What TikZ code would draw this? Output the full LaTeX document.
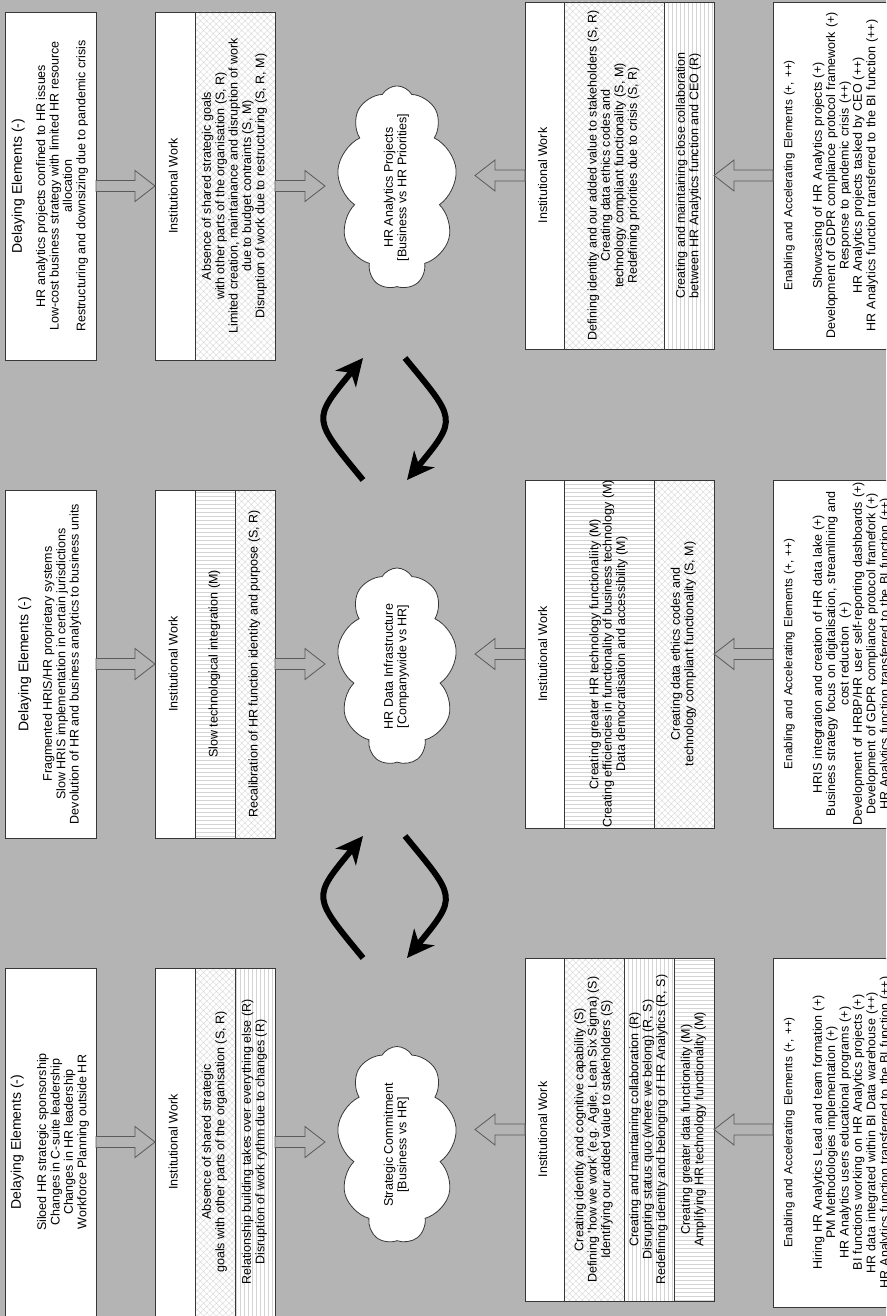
\documentclass[tikz,border=0pt]{standalone}
\usepackage{fontspec}
\setmainfont{Liberation Sans}
\usepackage{graphicx}
\usetikzlibrary{arrows.meta,shapes.symbols,patterns.meta,calc}

\definecolor{bggray}{RGB}{180,180,180}
\definecolor{edgegray}{RGB}{55,55,55}
\definecolor{hatchgray}{RGB}{212,212,212}
\definecolor{arrowgray}{RGB}{90,90,90}

% text turned to read bottom-to-top
\newcommand{\vtext}[1]{\rotatebox{90}{\begin{tabular}{@{}c@{}}#1\end{tabular}}}
\newcommand{\dtitle}{{\fontsize{14bp}{15bp}\selectfont Delaying Elements (-)}}
\newcommand{\etitle}{{\fontsize{11.7bp}{13.4bp}\selectfont Enabling and Accelerating Elements (+, ++)}}
% hollow block arrow from #1 to the tip #2
\newcommand{\blockarrow}[2]{%
  \coordinate (ba-s) at #1;
  \coordinate (ba-t) at #2;
  \coordinate (ba-h) at ($(ba-t)!20bp!(ba-s)$);
  \draw[blockarr] ($(ba-s)!5.5bp!90:(ba-t)$) -- ($(ba-h)!5.5bp!90:(ba-t)$)
    -- ($(ba-h)!15.5bp!90:(ba-t)$) -- (ba-t) -- ($(ba-h)!15.5bp!-90:(ba-t)$)
    -- ($(ba-h)!5.5bp!-90:(ba-t)$) -- ($(ba-s)!5.5bp!-90:(ba-t)$) -- cycle;}

\begin{document}
\begin{tikzpicture}[x=1bp,y=-1bp,
    every node/.style={font=\fontsize{12.5bp}{13.4bp}\selectfont},
    wh/.style 2 args={minimum width=#1bp,minimum height=#2bp},
    bandbase/.style={draw=edgegray,line width=0.9bp,inner sep=0pt,outer sep=0pt,anchor=north west},
    plainbox/.style={bandbase,fill=white},
    crossband/.style={bandbase,preaction={fill=white},pattern={Hatch[angle=45,distance=4.5bp,line width=0.35bp]},pattern color=hatchgray},
    vband/.style={bandbase,preaction={fill=white},pattern={Lines[angle=90,distance=4bp,line width=0.4bp]},pattern color=hatchgray},
    hband/.style={bandbase,preaction={fill=white},pattern={Lines[angle=0,distance=4bp,line width=0.4bp]},pattern color=hatchgray},
    enab/.style={plainbox,inner xsep=10bp,text width=130bp,align=left},
    cloudy/.style={cloud,cloud puffs=9,cloud puff arc=120,cloud ignores aspect,draw=edgegray,line width=0.8bp,fill=white,
      minimum width=120bp,minimum height=197bp,inner sep=0pt},
    blockarr/.style={draw=arrowgray,line width=0.8bp,fill=bggray,line join=miter},
    cycarrow/.style={line width=6bp,-{Stealth[length=27bp,width=26bp,inset=8bp]}}]

\useasboundingbox (0,0) rectangle (886,1316);
\clip (0,0) rectangle (886,1316);
\fill[bggray] (0,0) rectangle (886,1316);

% HR Analytics Projects
\node[plainbox,wh={91}{348}] (d1) at (5,12) {\vtext{\dtitle\\[10bp]
  HR analytics projects confined to HR issues\\
  Low-cost business strategy with limited HR resource\\
  allocation\\
  Restructuring and downsizing due to pandemic crisis}};
\node[plainbox,wh={40}{348}] (t1) at (155,12) {\vtext{Institutional Work}};
\node[crossband,wh={80}{348}] (t1a) at (195,12) {\vtext{Absence of shared strategic goals\\
  with other parts of the organisation (S, R)\\
  Limited creation, maintainance and disruption of work\\
  due to budget contraints (S, M)\\
  Disruption of work due to restructuring (S, R, M)}};
\node[cloudy] (c1) at (397,187.5) {\vtext{HR Analytics Projects\\{}[Business vs HR Priorities]}};
\node[plainbox,wh={39}{347}] (b1) at (525,2) {\vtext{Institutional Work}};
\node[crossband,wh={100}{347}] (b1a) at (564,2) {\vtext{Defining identity and our added value to stakeholders (S, R)\\
  Creating data ethics codes and\\
  technology compliant functionality (S, M)\\
  Redefining priorities due to crisis (S, R)}};
\node[vband,wh={50}{347}] (b1b) at (664,2) {\vtext{Creating and maintaining close collaboration\\
  between HR Analytics function and CEO (R)}};
\node[enab,minimum height=347bp] (e1) at (773,2) {\vtext{\etitle\\[16bp]
  Showcasing of HR Analytics projects (+)\\
  Development of GDPR compliance protocol framework (+)\\
  Response to pandemic crisis (++)\\
  HR Analytics projects tasked by CEO (++)\\
  HR Analytics function transferred to the BI function (++)}};

% HR Data Infrastructure
\node[plainbox,wh={91}{348}] (d2) at (5,490) {\vtext{\dtitle\\[10bp]
  Fragmented HRIS/HR proprietary systems\\
  Slow HRIS implementation in certain jurisdictions\\
  Devolution of HR and business analytics to business units}};
\node[plainbox,wh={40}{348}] (t2) at (155,490) {\vtext{Institutional Work}};
\node[hband,wh={40}{348}] (t2a) at (195,490) {\vtext{Slow technological integration (M)}};
\node[crossband,wh={40}{348}] (t2b) at (235,490) {\vtext{Recalibration of HR function identity and purpose (S, R)}};
\node[cloudy] (c2) at (397,666.5) {\vtext{HR Data Infrastructure\\{}[Companywide vs HR]}};
\node[plainbox,wh={39}{348}] (b2) at (525,480) {\vtext{Institutional Work}};
\node[hband,wh={90}{348}] (b2a) at (564,480) {\vtext{Creating greater HR technology functionaliity (M)\\
  \makebox[0pt]{Creating efficiencies in functionality of business technology (M)}\\
  Data democratisation and accessibility (M)}};
\node[crossband,wh={60}{348}] (b2b) at (654,480) {\vtext{Creating data ethics codes and\\
  technology compliant functionality (S, M)}};
\node[enab,minimum height=348bp] (e2) at (773,480) {\vtext{\etitle\\[16bp]
  HRIS integration and creation of HR data lake (+)\\
  Business strategy focus on digitalisation, streamlining and\\
  cost reduction\ \ (+)\\
  Development of HRBP/HR user self-reporting dashboards (+)\\
  Development of GDPR compliance protocol framefork (+)\\
  HR Analytics function transferred to the BI function (++)}};

% Strategic Commitment
\node[plainbox,wh={91}{348}] (d3) at (5,968) {\vtext{\dtitle\\[12bp]
  Siloed HR strategic sponsorship\\
  Changes in C-suite leadership\\
  Changes in HR leadership\\
  Workforce Planning outside HR}};
\node[plainbox,wh={40}{348}] (t3) at (155,968) {\vtext{Institutional Work}};
\node[crossband,wh={40}{348}] (t3a) at (195,968) {\vtext{Absence of shared strategic\\
  goals with other parts of the organisation (S, R)}};
\node[vband,wh={40}{348}] (t3b) at (235,968) {\vtext{Relationship building takes over everything else (R)\\
  Disruption of work rythm due to changes (R)}};
\node[cloudy] (c3) at (397,1145) {\vtext{Strategic Commitment\\{}[Business vs HR]}};
\node[plainbox,wh={39}{343}] (b3) at (525,958) {\vtext{Institutional Work}};
\node[crossband,wh={60}{343}] (b3a) at (564,958) {\vtext{Creating identity and cognitive capability (S)\\
  Defining \textquotesingle how we work\textquotesingle\ (e.g. Agile, Lean Six Sigma) (S)\\
  Identifying our added value to stakeholders (S)}};
\node[vband,wh={50}{343}] (b3b) at (624,958) {\vtext{Creating and maintaining collaboration (R)\\
  Disrupting status quo (where we belong) (R, S)\\
  Redefining identity and belonging of HR Analytics (R, S)}};
\node[hband,wh={40}{343}] (b3c) at (674,958) {\vtext{Creating greater data functionality (M)\\
  Amplifying HR technology functionality (M)}};
\node[enab,minimum height=349bp] (e3) at (773,958) {\vtext{\etitle\\[16bp]
  Hiring HR Analytics Lead and team formation (+)\\
  PM Methodologies implementation (+)\\
  HR Analytics users educational programs (+)\\
  BI functions working on HR Analytics projects (+)\\
  HR data integrated within BI Data warehouse (++)\\
  HR Analytics function transferred to the BI function (++)}};

% block arrows
\blockarrow{(d1.east)}{(t1.west)}
\blockarrow{(t1a.east)}{($(c1.center |- t1a.east)+(-72,0)$)}
\blockarrow{(b1.west)}{($(c1.center |- b1.west)+(78,0)$)}
\blockarrow{(e1.west |- b1.west)}{(b1b.east)}
\blockarrow{(d2.east)}{(t2.west)}
\blockarrow{(t2b.east)}{($(c2.center |- t2b.east)+(-72,0)$)}
\blockarrow{(b2.west)}{($(c2.center |- b2.west)+(78,0)$)}
\blockarrow{(e2.west |- b2.west)}{(b2b.east)}
\blockarrow{(d3.east)}{(t3.west)}
\blockarrow{(t3b.east)}{($(c3.center |- t3b.east)+(-72,0)$)}
\blockarrow{(b3.west)}{($(c3.center |- b3.west)+(78,0)$)}
\blockarrow{(e3.west |- b3.west)}{(b3c.east)}

% cycle arrows between the clouds
\foreach \cy/\n in {419/a,897/b}{
  \coordinate (cyl\n) at (363,\cy+61);
  \coordinate (cylt\n) at (363,\cy-61);
  \coordinate (cyr\n) at (405,\cy-61);
  \coordinate (cyrt\n) at (407,\cy+61);
  \draw[cycarrow] (cyl\n) .. controls +(-51,-62) and +(-51,62) .. (cylt\n);
  \draw[cycarrow] (cyr\n) .. controls +(51,62) and +(51,-62) .. (cyrt\n);
}
\end{tikzpicture}
\end{document}
